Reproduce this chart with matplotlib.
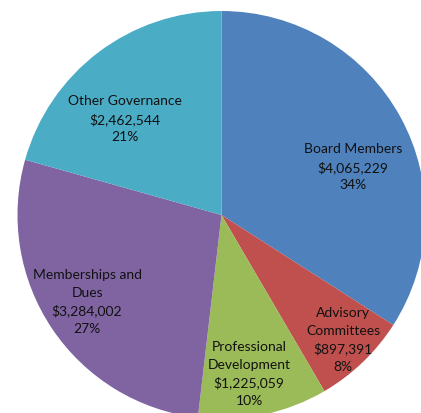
import matplotlib
matplotlib.use("Agg")
import matplotlib.pyplot as plt

categories = ["Board Members", "Advisory\nCommittees", "Professional\nDevelopment",
              "Memberships and\nDues", "Other Governance"]
values = [4065229, 897391, 1225059, 3284002, 2462544]
percent_labels = [34, 8, 10, 27, 21]
colors = ["#4F81BD", "#C0504D", "#9BBB59", "#8064A2", "#4BACC6"]
# label offsets in units of the pie radius (layout only)
label_offsets = [(0.645, 0.240), (0.596, -0.608), (0.135, -0.775),
                 (-0.659, -0.422), (-0.473, 0.475)]

W, H = 421, 414
fig = plt.figure(figsize=(W / 100, H / 100), dpi=100)
ax = fig.add_axes([0, 0, 1, 1])
cx, cy, R = 221.5, H - 216, 204
ax.pie(values, colors=colors, startangle=90, counterclock=False,
       center=(cx, cy), radius=R, wedgeprops=dict(linewidth=0))
ax.set_xlim(0, W)
ax.set_ylim(0, H)
ax.set_aspect("equal")
ax.axis("off")

for cat, v, p, (ox, oy) in zip(categories, values, percent_labels, label_offsets):
    txt = f"{cat}\n${v:,.0f}\n{p}%"
    ax.text(cx + ox * R, cy + oy * R, txt, ha="center", va="center",
            fontsize=10, family=["Lato", "DejaVu Sans"], color="#111111",
            linespacing=1.55, multialignment="center")

fig.savefig("out.png", dpi=100)
